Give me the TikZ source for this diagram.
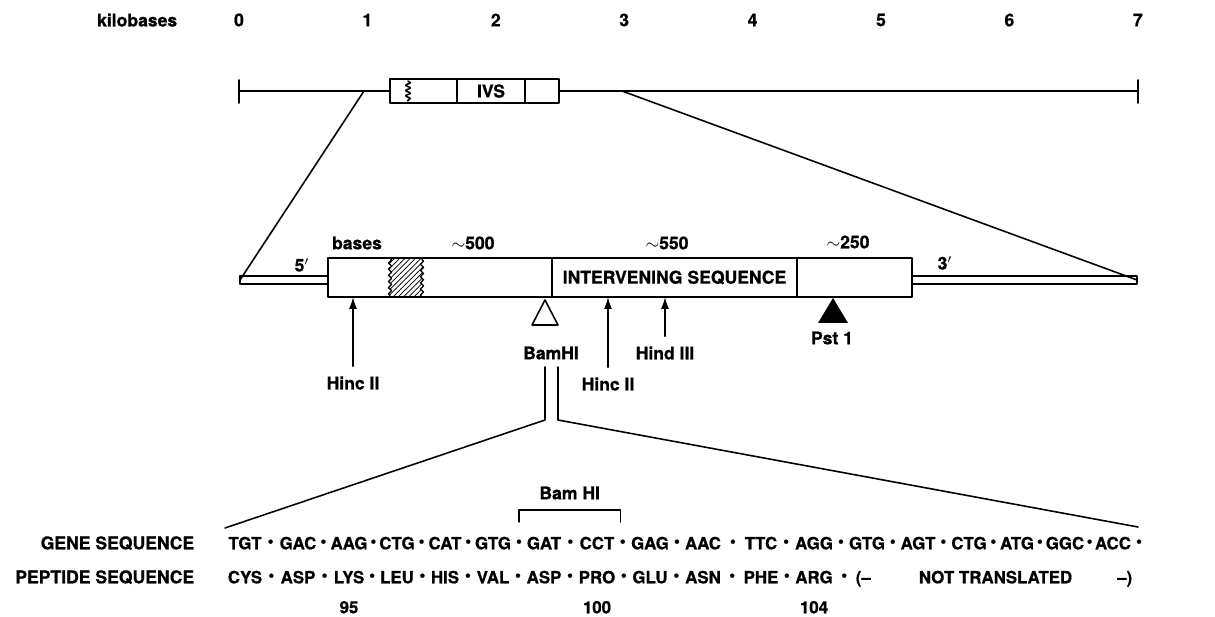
\documentclass[tikz,border=0pt]{standalone}
\usepackage{fontspec}
\setmainfont{TeX Gyre Heros}[BoldFeatures={FakeBold=0.8}]
\usetikzlibrary{arrows.meta,calc,patterns,decorations.pathmorphing}

\begin{document}
\begin{tikzpicture}[font=\fontsize{10}{12}\selectfont\bfseries, line width=0.9pt, line join=round, line cap=round, >={Latex[length=2.4mm,width=1.6mm]},
	seq/.style={anchor=base, inner sep=0pt, font=\fontsize{9.6}{12}\selectfont\bfseries},
	dot/.style={inner sep=0pt, font=\fontsize{9.6}{12}\selectfont\bfseries},
	wavy/.style={decoration={snake,amplitude=0.9pt,segment length=3.5pt}}]
			\useasboundingbox (0,0) rectangle (24.3,12.32);
			% kilobase scale
			\node[anchor=east, inner sep=0pt] (kb) at (3.56,11.92) {kilobases};
			\foreach \k in {0,...,7}
				\node (kb\k) at ({4.78+2.568*\k},11.92) {\k};
			% whole gene
			\draw (4.78,10.72)--(4.78,10.26);
			\draw (22.76,10.72)--(22.76,10.26);
			\draw (4.78,10.5)--(7.8,10.5);
			\draw (11.18,10.5)--(22.76,10.5);
			\draw (7.8,10.26) rectangle (11.18,10.74);
			\draw (9.14,10.26)--(9.14,10.74) (10.5,10.26)--(10.5,10.74);
			\node (ivs) at (9.82,10.5) {IVS};
			\draw[decorate, decoration={snake,amplitude=1.3pt,segment length=3pt}] (8.16,10.7)--(8.16,10.3);
			% blow-up lines
			\coordinate (topL) at (7.28,10.5);
			\coordinate (topR) at (12.44,10.5);
			\coordinate (tipL) at (4.8,6.72);
			\coordinate (tipR) at (22.74,6.72);
			\draw (topL)--(tipL);
			\draw (topR)--(tipR);
			% expanded gene
			\draw (tipL) ++(0,-0.08) rectangle (6.56,6.8);
			\draw (18.24,6.64) rectangle (22.74,6.8);
			\draw (6.56,6.38) rectangle (18.24,7.16);
			\draw (11.04,6.38)--(11.04,7.16) (15.94,6.38)--(15.94,7.16);
			\draw[pattern=north east lines, line width=0.7pt] (7.8,7.16) decorate[wavy]{--(7.8,6.38)} --(8.44,6.38) decorate[wavy]{--(8.44,7.16)} --cycle;
			\coordinate (bot) at (0,6.38);
			\node (bases) at (7.14,7.46) {bases};
			\node (len1) at (9.46,7.46) {$\sim$500};
			\node (len2) at (13.34,7.46) {$\sim$550};
			\node (len3) at (16.96,7.48) {$\sim$250};
			\node (five) at (6.04,7.02) {5$'$};
			\node (three) at (18.9,7.06) {3$'$};
			\node (ivslong) at (13.49,6.77) {INTERVENING SEQUENCE};
			% restriction sites
			\node (hincA) at (7.06,4.66) {Hinc II};
			\draw[->] ([yshift=2pt]hincA.north)--(hincA |- bot);
			\node (hincB) at (12.16,4.64) {Hinc II};
			\draw[->] ([yshift=2pt]hincB.north)--(hincB |- bot);
			\node (hind) at (13.3,5.26) {Hind III};
			\draw[->] ([yshift=2pt]hind.north)--(hind |- bot);
			\draw (10.9,6.32)--(10.64,5.82)--(11.16,5.82)--cycle;
			\node (bam) at (11.02,5.26) {BamHI};
			\fill (16.66,6.36)--(16.36,5.86)--(16.96,5.86)--cycle;
			\node (pst) at (16.64,5.56) {Pst 1};
			% sequence blow-up
			\coordinate (seqL) at (4.5,1.76);
			\coordinate (seqR) at (22.76,1.78);
			\draw (10.9,4.98)--(10.9,3.92)--(seqL);
			\draw (11.16,4.98)--(11.16,3.92)--(seqR);
			% sequences
			\node[anchor=base east, inner sep=0pt] (gs) at (3.9,1.334) {GENE SEQUENCE};
			\node[anchor=base east, inner sep=0pt] (ps) at (3.9,0.654) {PEPTIDE SEQUENCE};
			\foreach \x/\c [count=\i] in {4.9/TGT,5.96/GAC,6.98/AAG,7.94/CTG,8.9/CAT,9.86/GTG,10.88/GAT,11.94/CCT,13.0/GAG,14.06/AAC,15.22/TTC,16.28/AGG,17.34/GTG,18.36/AGT,19.38/CTG,20.34/ATG,21.3/GGC,22.26/ACC}
				\node[seq] (g\i) at (\x,1.334) {\c};
			\foreach \i [evaluate=\i as \j using int(\i+1)] in {1,...,17}
				\node[dot] at ($(g\i.east)!0.5!(g\j.west)$) {•};
			\node[dot, anchor=west] at ([xshift=2pt]g18.east) {•};
			\foreach \a [count=\i] in {CYS,ASP,LYS,LEU,HIS,VAL,ASP,PRO,GLU,ASN,PHE,ARG}
				\node[seq] (p\i) at (g\i |- 0,0.654) {\a};
			\foreach \i [evaluate=\i as \j using int(\i+1)] in {1,...,11}
				\node[dot] at ($(p\i.east)!0.5!(p\j.west)$) {•};
			\node[seq, anchor=base west] (nt1) at (17.1,0.654) {(–};
			\node[dot] at ($(p12.east)!0.5!(nt1.west |- p12.east)$) {•};
			\node[seq] (nt) at (19.91,0.654) {NOT TRANSLATED};
			\node[seq, anchor=base east] (nt2) at (22.66,0.654) {–)};
			\node[seq] (n95) at (p3 |- 0,0.054) {95};
			\node[seq] (n100) at (p8 |- 0,0.054) {100};
			\node[seq] (n104) at (p12 |- 0,0.054) {104};
			% Bam HI site
			\coordinate (bl) at ($(g6.base east)!0.5!(g7.base west)$);
			\coordinate (br) at ([xshift=3pt]g8.east);
			\draw[line width=0.8pt] (bl |- 0,1.88)--(bl |- 0,2.12)--(br |- 0,2.12)--(br |- 0,1.88);
			\node (bamlab) at ($(bl |- 0,2.46)!0.5!(br |- 0,2.46)$) {Bam HI};
		\end{tikzpicture}
\end{document}
